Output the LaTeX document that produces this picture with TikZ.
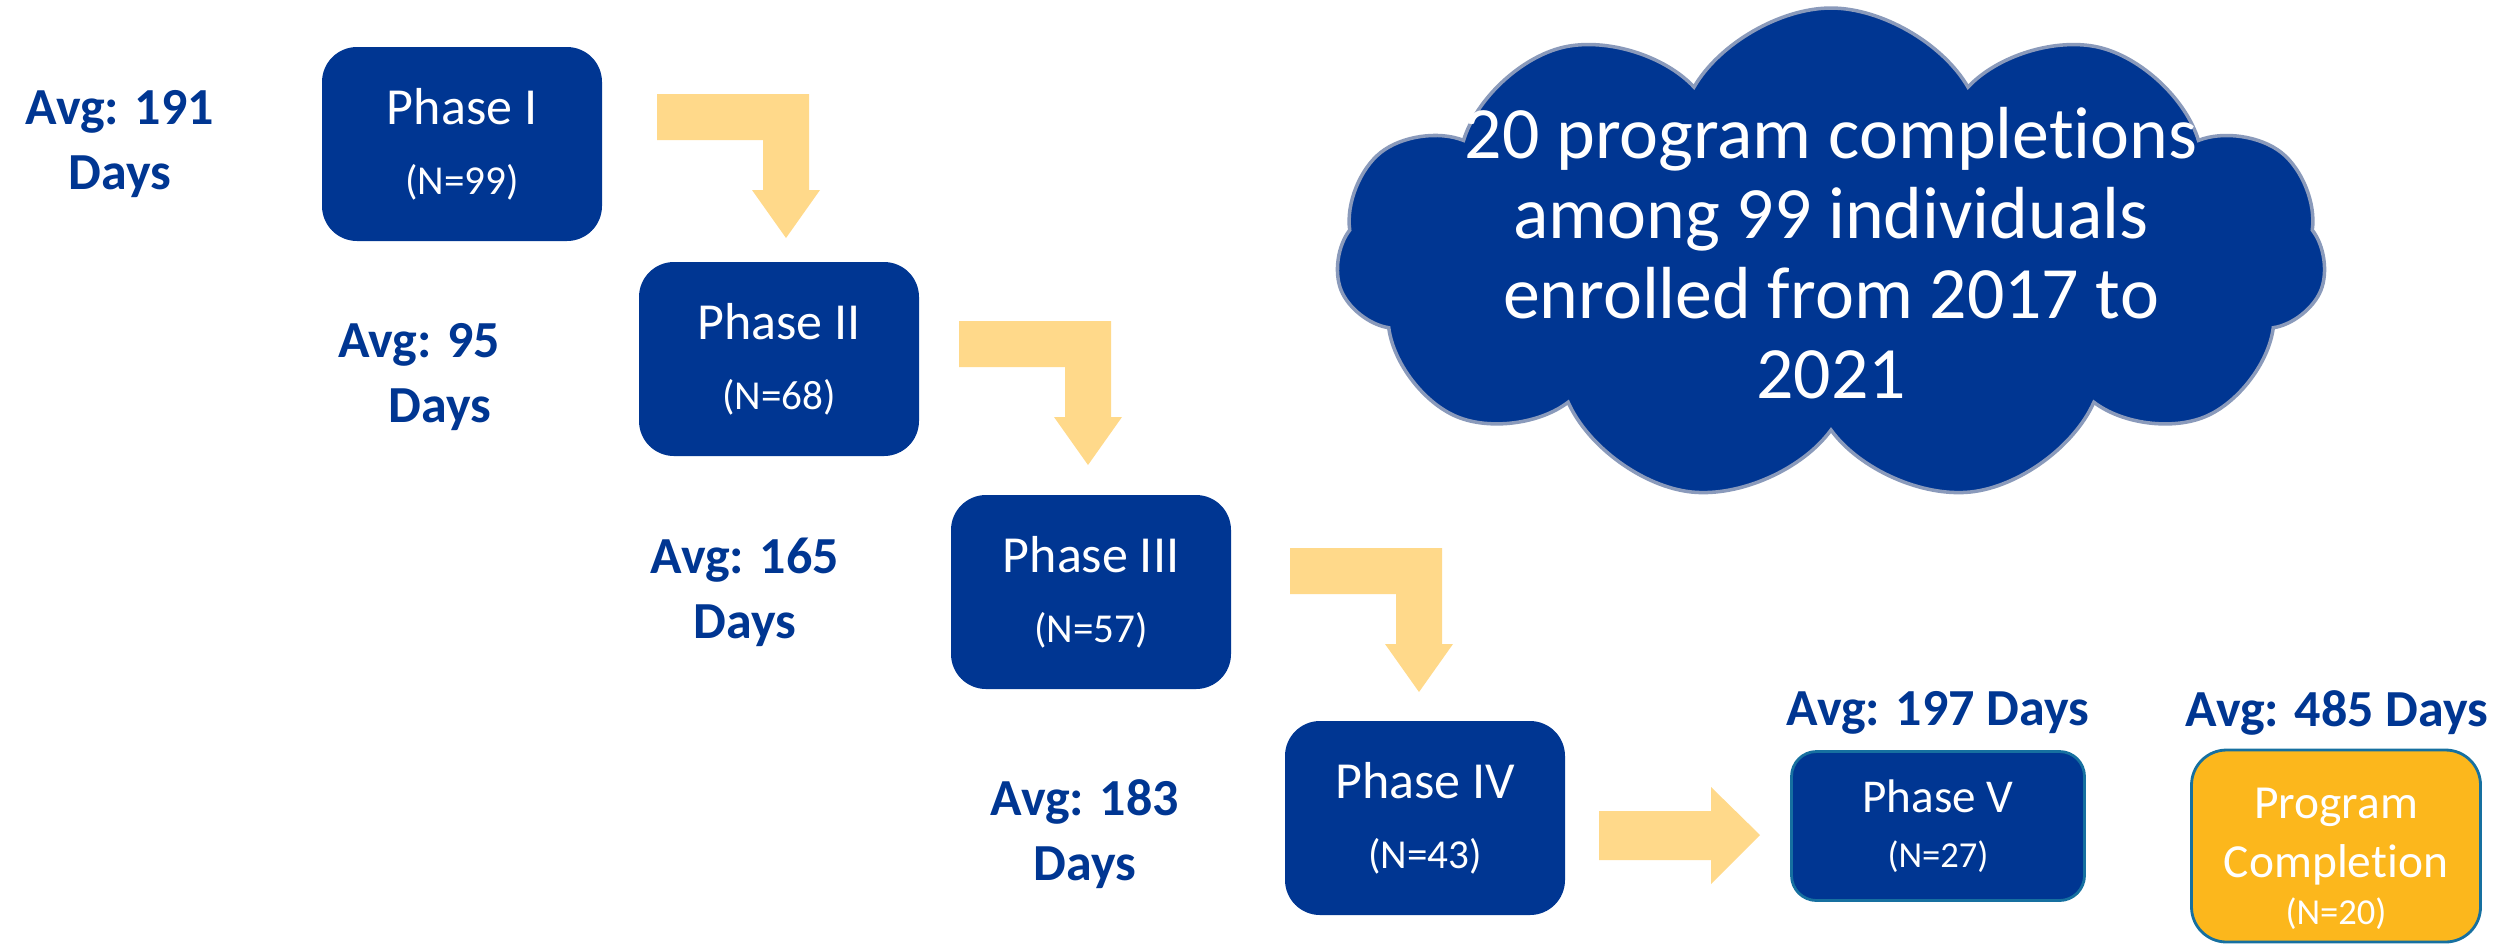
\documentclass[tikz,border=0pt]{standalone}
\usepackage{fontspec}
\setmainfont{Carlito}[Ligatures={NoCommon}]
\usetikzlibrary{shapes.symbols}

\definecolor{phaseblue}{RGB}{0,54,146}
\definecolor{arrowyellow}{RGB}{255,217,138}
\definecolor{doneorange}{RGB}{252,183,28}
\definecolor{edgeteal}{RGB}{22,112,160}
\definecolor{cloudedge}{RGB}{138,154,187}

\tikzset{
  phase/.style={rounded corners=3.5mm, fill=phaseblue, text=white, minimum width=28mm,
    minimum height=19.4mm, inner sep=0pt, align=center, font=\fontsize{14.8}{19.9}\selectfont},
  avg/.style={text=phaseblue, align=center, font=\bfseries\fontsize{14.8}{18.5}\selectfont},
  arrowfill/.style={fill=arrowyellow},
}

\newcommand{\bentarrow}[1]{%
  \fill[arrowfill, shift={#1}] (0,0) -- (152,0) -- (152,96) -- (163,96) -- (129,144)
    -- (95,96) -- (106,96) -- (106,46) -- (0,46) -- cycle;}

\begin{document}
\begin{tikzpicture}[x=0.1mm, y=-0.1mm]
    \useasboundingbox (0,0) rectangle (2514,945);

    % Phases
    \node[phase] (p1) at (462,144) {Phase I\\\fontsize{11.7}{19.9}\selectfont (N=99)};
    \node[phase] (p2) at (779,359) {Phase II\\\fontsize{11.7}{19.9}\selectfont (N=68)};
    \node[phase] (p3) at (1091,592) {Phase III\\\fontsize{11.7}{19.9}\selectfont (N=57)};
    \node[phase] (p4) at (1425,818) {Phase IV\\\fontsize{11.7}{19.9}\selectfont (N=43)};
    \node[phase, rounded corners=2.5mm, draw=edgeteal, line width=0.8pt,
        minimum width=29.3mm, minimum height=14.9mm, font=\fontsize{13.4}{15.6}\selectfont]
        (p5) at (1938,826) {Phase V\\\fontsize{10.4}{15.6}\selectfont (N=27)};
    \node[phase, fill=doneorange, draw=edgeteal, line width=0.8pt,
        minimum width=28.9mm, minimum height=19.2mm, font=\fontsize{13.5}{16.8}\selectfont]
        (done) at (2336,846) {\rule{0pt}{16pt}Program\\Completion\\[-3.5pt]\fontsize{10.4}{16.8}\selectfont (N=20)};

    % Averages
    \node[avg] (a1) at (120,144) {Avg: 191\\Days};
    \node[avg] (a2) at (419,377) {Avg: 95\\\hspace*{12pt}Days};
    \node[avg] (a3) at (745,592) {Avg: 165\\Days};
    \node[avg] (a4) at (1085,834) {Avg: 183\\Days};
    \node[avg] (a5) at (1938,713) {Avg: 197 Days};
    \node[avg] (a6) at (2337,713) {Avg: 485 Days};

    % Arrows
    \bentarrow{(657,94)}
    \bentarrow{(959,321)}
    \bentarrow{(1290,548)}
    \fill[arrowfill] (1599,811) -- (1711,811) -- (1711,787) -- (1760,835)
        -- (1711,884) -- (1711,860) -- (1599,860) -- cycle;

    % Cloud
    \node[cloud, cloud puffs=11, cloud puff arc=120, cloud ignores aspect,
        fill=phaseblue, draw=cloudedge, line width=1pt,
        minimum width=99mm, minimum height=49.4mm] (cloud) at (1831,255) {};
    \node[text=white, align=center, font=\fontsize{21}{22.8}\selectfont] (note) at (1831,253)
        {20 program completions\\among 99 individuals\\enrolled from 2017 to\\2021};
\end{tikzpicture}
\end{document}
